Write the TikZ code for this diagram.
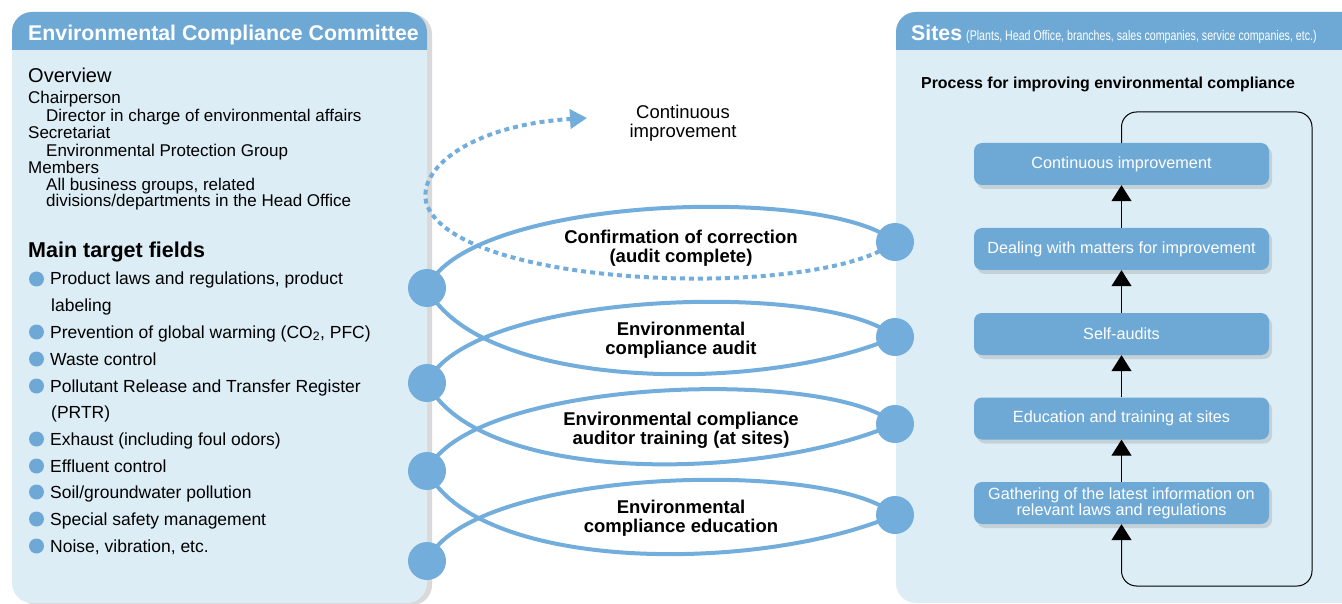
\documentclass[tikz,border=0pt]{standalone}
\usepackage{fontspec}
\setmainfont{Liberation Sans}
\newfontfamily\narrowfont[FakeStretch=0.76]{Liberation Sans}
\usetikzlibrary{positioning,arrows.meta,shadows}

\definecolor{hdrblue}{HTML}{6EA9D5}
\definecolor{panelblue}{HTML}{DCEDF5}
\definecolor{coilblue}{HTML}{72ADDB}

\begin{document}
\begin{tikzpicture}[x=1pt,y=-1pt,
  panel/.style={fill=panelblue,rounded corners=20pt},
  hdrtext/.style={anchor=base west,inner sep=0pt,text=white,font=\fontsize{21.3}{24}\selectfont\bfseries},
  plain/.style={anchor=base west,inner sep=0pt,font=\fontsize{17}{17}\selectfont},
  item/.style={anchor=base west,inner sep=0pt,font=\fontsize{17.5}{18}\selectfont},
  dot/.style={circle,fill=hdrblue,minimum size=15pt,inner sep=0pt},
  knot/.style={circle,fill=coilblue,minimum size=38pt,inner sep=0pt},
  coil/.style={draw=coilblue,line width=4pt},
  stage/.style={align=center,inner sep=0pt,font=\fontsize{18.5}{19}\selectfont\bfseries},
  procbox/.style={fill=hdrblue,rounded corners=8pt,minimum width=295pt,minimum height=42pt,
    inner sep=0pt,text=white,align=center,font=\fontsize{16.2}{16}\selectfont,
    drop shadow={shadow xshift=3pt,shadow yshift=-4pt,opacity=0.25}},
  uparrow/.style={-{Triangle[length=16pt,width=20pt]},line width=1pt}
]
\useasboundingbox (0,0) rectangle (1342,604);

\fill[panel,drop shadow={shadow xshift=5pt,shadow yshift=-2pt,opacity=0.3}] (12,12) rectangle (427,603);
\begin{scope}
 \clip (12,12) rectangle (427,50);
 \fill[hdrblue,rounded corners=20pt] (12,12) rectangle (427,603);
\end{scope}
\fill[panel] (896,12) rectangle (1366,603);
\begin{scope}
 \clip (896,12) rectangle (1366,50);
 \fill[hdrblue,rounded corners=20pt] (896,12) rectangle (1366,603);
\end{scope}

\node[hdrtext] (ecc) at (28,41) {Environmental Compliance Committee};
\node[plain,font=\fontsize{20}{20}\selectfont] (overview) at (28,83) {Overview};
\node[plain] (chair) at (28,104) {Chairperson};
\node[plain] (chairval) at (46,122) {Director in charge of environmental affairs};
\node[plain] (secr) at (28,139) {Secretariat};
\node[plain] (secrval) at (46,157) {Environmental Protection Group};
\node[plain] (memb) at (28,174) {Members};
\node[plain] (membval) at (46,191) {All business groups, related};
\node[plain] (membval2) at (46,207) {divisions/departments in the Head Office};

\node[plain,font=\fontsize{21.5}{22}\selectfont\bfseries] (fields) at (28,258) {Main target fields};
\node[item] (f1) at (50,285) {Product laws and regulations, product};
\node[item] (f1b) at (51,312) {labeling};
\node[item] (f2) at (50,338) {Prevention of global warming (CO\textsubscript{2}, PFC)};
\node[item] (f3) at (50,365) {Waste control};
\node[item] (f4) at (50,392) {Pollutant Release and Transfer Register};
\node[item] (f4b) at (51,418) {(PRTR)};
\node[item] (f5) at (50,445) {Exhaust (including foul odors)};
\node[item] (f6) at (50,472) {Effluent control};
\node[item] (f7) at (50,498) {Soil/groundwater pollution};
\node[item] (f8) at (50,525) {Special safety management};
\node[item] (f9) at (50,552) {Noise, vibration, etc.};
\foreach \y in {279,332,359,386,439,466,492,519,546}
  \node[dot] at (36.5,\y) {};

\node[align=center,inner sep=0pt,font=\fontsize{18.5}{19}\selectfont] (ci) at (683,123) {Continuous\\improvement};

\coordinate (a1) at (427,288);
\coordinate (a2) at (427,383);
\coordinate (a3) at (427,471);
\coordinate (a4) at (427,561);
\coordinate (b1) at (895,242);
\coordinate (b2) at (895,337);
\coordinate (b3) at (895,424);
\coordinate (b4) at (895,515);

\draw[coil] (a1) .. controls +(43,-93) and +(-65,-57) .. (b1);
\draw[coil] (a2) .. controls +(43,-93) and +(-65,-57) .. (b2);
\draw[coil] (a3) .. controls +(43,-93) and +(-65,-57) .. (b3);
\draw[coil] (a4) .. controls +(43,-93) and +(-65,-57) .. (b4);
\draw[coil] (a1) .. controls +(53,102) and +(-135,58) .. (b2);
\draw[coil] (a2) .. controls +(53,102) and +(-135,58) .. (b3);
\draw[coil] (a3) .. controls +(53,102) and +(-135,58) .. (b4);
\draw[coil,dash pattern=on 5pt off 4pt,-{Triangle[length=17pt,width=19pt]}]
  (b1) .. controls (820,300) and (460,290) .. (427,205) .. controls (415,170) and (470,125) .. (587,118);

\node[knot] (A1) at (a1) {};
\node[knot] (A2) at (a2) {};
\node[knot] (A3) at (a3) {};
\node[knot] (A4) at (a4) {};
\node[knot] (B1) at (b1) {};
\node[knot] (B2) at (b2) {};
\node[knot] (B3) at (b3) {};
\node[knot] (B4) at (b4) {};

\node[stage] (s1) at (681,248) {Confirmation of correction\\(audit complete)};
\node[stage] (s2) at (681,340) {Environmental\\compliance audit};
\node[stage] (s3) at (681,430) {Environmental compliance\\auditor training (at sites)};
\node[stage] (s4) at (681,518) {Environmental\\compliance education};

\node[hdrtext] (sites) at (911,41) {Sites};
\node[anchor=base west,inner sep=0pt,text=white,font=\narrowfont\fontsize{14}{14}\selectfont] (sitesnote) at (966,41)
  {(Plants, Head Office, branches, sales companies, service companies, etc.)};
\node[anchor=base west,inner sep=0pt,font=\fontsize{15.9}{16}\selectfont\bfseries] (proc) at (921,89)
  {Process for improving environmental compliance};

\node[procbox] (improve) at (1121.5,164) {Continuous improvement};
\node[procbox] (deal) at (1121.5,249) {Dealing with matters for improvement};
\node[procbox] (selfaudit) at (1121.5,334) {Self-audits};
\node[procbox] (training) at (1121.5,418.5) {Education and training at sites};
\node[procbox] (gather) at (1121.5,503) {Gathering of the latest information on\\relevant laws and regulations};

\draw[uparrow] (gather.north) -- (training.south);
\draw[uparrow] (training.north) -- (selfaudit.south);
\draw[uparrow] (selfaudit.north) -- (deal.south);
\draw[uparrow] (deal.north) -- (improve.south);
\draw[uparrow,rounded corners=15pt] (improve.north) |- (1312,112) -- (1312,586) -| (gather.south);
\end{tikzpicture}
\end{document}
